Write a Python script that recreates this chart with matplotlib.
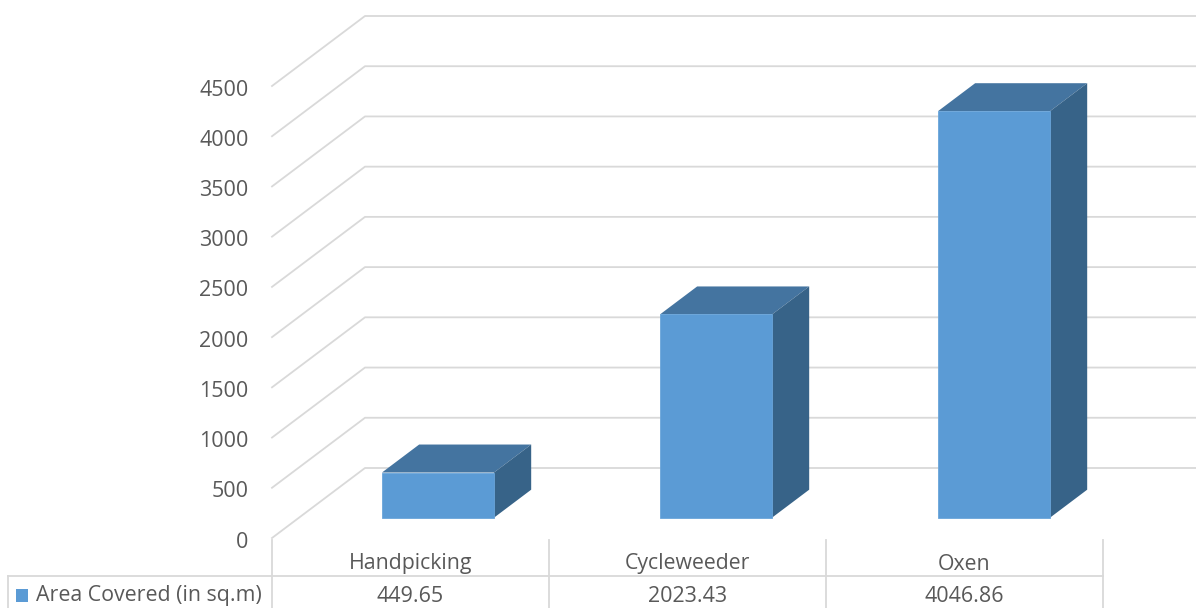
import matplotlib
matplotlib.use("Agg")
import matplotlib.pyplot as plt
from matplotlib.transforms import ScaledTranslation

categories = ["Handpicking", "Cycleweeder", "Oxen"]
area_covered = [449.65, 2023.43, 4046.86]
value_labels = ["449.65", "2023.43", "4046.86"]
series_name = "Area Covered (in sq.m)"
y_ticks = [0, 500, 1000, 1500, 2000, 2500, 3000, 3500, 4000, 4500]

W, H = 1196, 608
GRID = "#d9d9d9"
TEXT = "#595959"
FRONT = "#5b9bd5"
TOP = "#4474a0"
SIDE = "#376388"

plt.rcParams["font.family"] = "Open Sans"

fig = plt.figure(figsize=(W / 100, H / 100), dpi=100)
ax = fig.add_axes([272 / W, (H - 538) / H, 834 / W, 452 / H])
ax.set_xlim(-0.5, 2.5)
ax.set_ylim(0, 4500)
for s in ax.spines.values():
    s.set_visible(False)
ax.patch.set_visible(False)

# oblique 3d: how far the back wall sits from the front edge, in data units
dx = 93 / 278
dy = 697
bar_w = 0.403
bar_front = 0.29
bar_depth = 0.4
right_end = -0.5 + (1196 - 272) / 278


def to_fig(px, py):
    return px / W, 1 - py / H


# floor and wall grid
for v in y_ticks:
    ax.plot([-0.5, -0.5 + dx, right_end], [v, v + dy, v + dy],
            color=GRID, lw=1.3, clip_on=False, zorder=1)

# bars: front face plus top and side faces
for i, v in enumerate(area_covered):
    x0 = i - bar_w / 2 + bar_front * dx
    x1 = x0 + bar_w
    base = bar_front * dy
    ox, oy = bar_depth * dx, bar_depth * dy
    ax.bar(x0, v, bar_w, bottom=base, align="edge", color=FRONT,
           edgecolor="#6aa5da", linewidth=0.6, zorder=3, clip_on=False)
    ax.fill([x0, x1, x1 + ox, x0 + ox],
            [base + v, base + v, base + v + oy, base + v + oy],
            color=TOP, lw=0, zorder=2, clip_on=False)
    ax.fill([x1, x1 + ox, x1 + ox, x1],
            [base, base + oy, base + v + oy, base + v],
            color=SIDE, lw=0, zorder=2, clip_on=False)

ax.set_yticks(y_ticks)
ax.set_xticks([])
ax.tick_params(axis="y", length=0, pad=17, labelsize=15.5, labelcolor=TEXT)
# nudge the tick labels down a little
nudge = ScaledTranslation(0, -1.5 / 100, fig.dpi_scale_trans)
for label in ax.get_yticklabels():
    label.set_transform(label.get_transform() + nudge)

# data table under the plot
table_x = [272, 549, 826, 1103]
for x in table_x:
    fig.add_artist(plt.Line2D([x / W, x / W], [to_fig(0, 540)[1], 0], color=GRID, lw=1.3))
fig.add_artist(plt.Line2D([8 / W, 8 / W], [to_fig(0, 576)[1], 0], color=GRID, lw=1.3))
fig.add_artist(plt.Line2D([8 / W, 1103 / W], [to_fig(0, 576)[1]] * 2, color=GRID, lw=1.3))

for i, name in enumerate(categories):
    cx = (table_x[i] + table_x[i + 1]) / 2 / W
    fig.text(cx, to_fig(0, 564)[1], name, ha="center", va="center", fontsize=15.3, color=TEXT)
    fig.text(cx, to_fig(0, 596)[1], value_labels[i], ha="center", va="center", fontsize=15.5, color=TEXT)

fig.add_artist(plt.Rectangle(to_fig(16, 602), 12 / W, 13 / H, color=FRONT, lw=0))
fig.text(36 / W, to_fig(0, 596)[1], series_name, ha="left", va="center", fontsize=15.4, color=TEXT)

fig.savefig("out.png", dpi=100)
